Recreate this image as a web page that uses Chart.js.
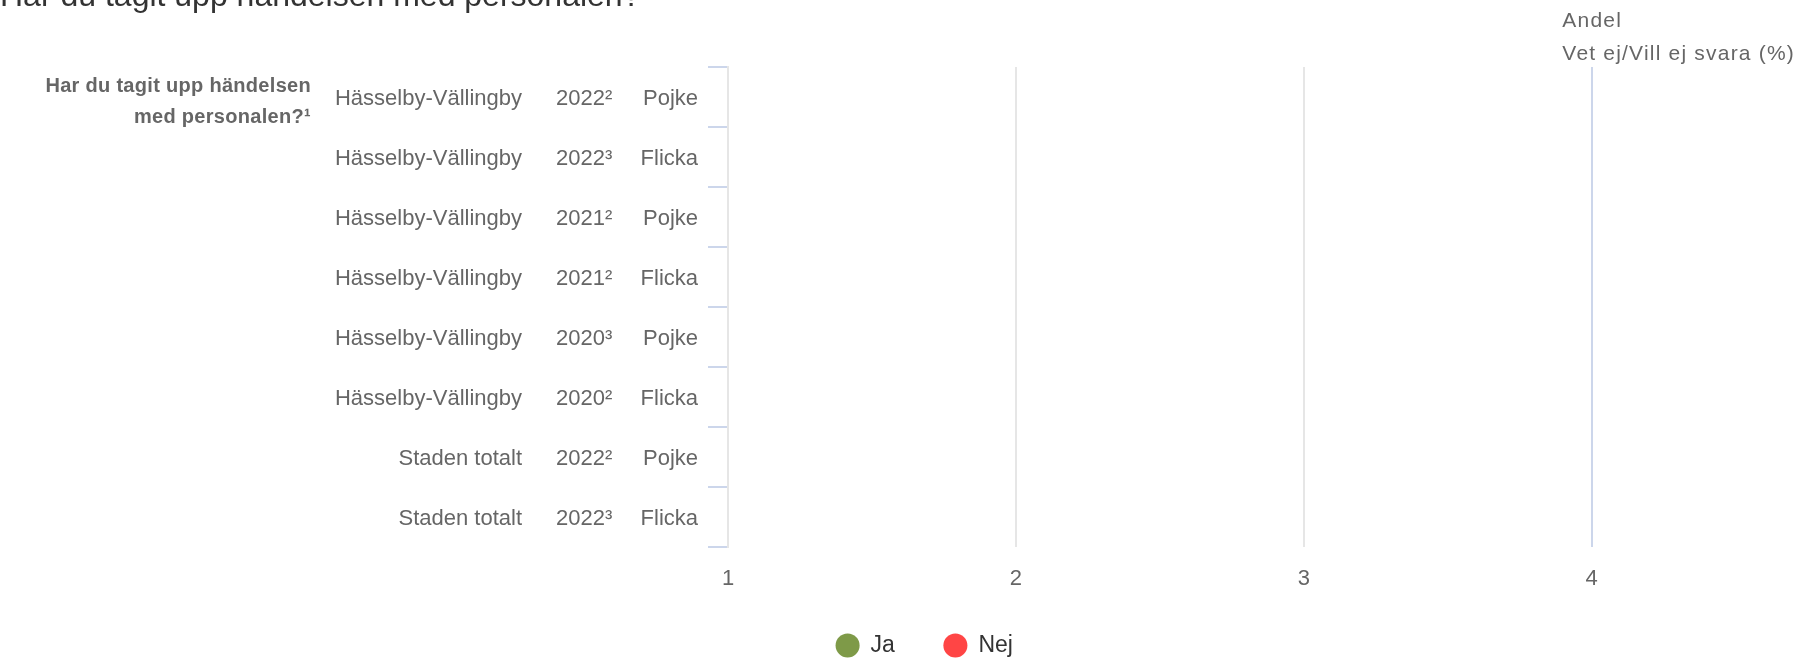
<!DOCTYPE html>
<html>
<head>
<meta charset="utf-8">
<script src="https://cdn.jsdelivr.net/npm/chart.js@4.4.0/dist/chart.umd.min.js"></script>
<style>
  html, body { margin: 0; padding: 0; background: #fff; overflow: hidden; }
  #wrap { position: relative; top: -24px; width: 1799px; height: 699px; }
</style>
</head>
<body>
<div id="wrap"><canvas id="chart"></canvas></div>
<script>
const regions = [
    "Hässelby-Vällingby", "Hässelby-Vällingby", "Hässelby-Vällingby", "Hässelby-Vällingby",
    "Hässelby-Vällingby", "Hässelby-Vällingby", "Staden totalt", "Staden totalt"
];
const years = ["2022²", "2022³", "2021²", "2021²", "2020³", "2020²", "2022²", "2022³"];
const genders = ["Pojke", "Flicka", "Pojke", "Flicka", "Pojke", "Flicka", "Pojke", "Flicka"];

// no answers reported for any group
const jaValues = [null, null, null, null, null, null, null, null];
const nejValues = [null, null, null, null, null, null, null, null];

const xTicks = [1, 2, 3, 4];

const question = ["Har du tagit upp händelsen", "med personalen?¹"];
const axisTitle = ["Andel", "Vet ej/Vill ej svara (%)"];

const FONT = "'Liberation Sans', Arial, sans-serif";

// row labels in three columns, the question label and the axis header
const rowLabels = {
    id: "rowLabels",
    afterLayout(chart) {
        chart.legend.left += 50;
        chart.legend.top -= 8;
    },
    afterDraw(chart) {
        const ctx = chart.ctx;
        const left = chart.chartArea.left;
        const y = chart.scales.y;
        ctx.save();
        ctx.textBaseline = "middle";
        ctx.fillStyle = "#666666";
        ctx.font = "22px " + FONT;
        regions.forEach((r, i) => {
            const py = y.getPixelForValue(i) + 2;
            ctx.textAlign = "right";
            ctx.fillText(r, left - 206, py);
            ctx.textAlign = "left";
            ctx.fillText(years[i], left - 172, py);
            ctx.textAlign = "right";
            ctx.fillText(genders[i], left - 30, py);
        });

        ctx.font = "bold 20px " + FONT;
        ctx.letterSpacing = "0.3px";
        ctx.textAlign = "right";
        const y0 = y.getPixelForValue(0);
        question.forEach((t, k) => ctx.fillText(t, left - 417, y0 - 11 + k * 31));

        ctx.font = "21px " + FONT;
        ctx.letterSpacing = "1.2px";
        ctx.textAlign = "left";
        const w = ctx.measureText(axisTitle[1]).width;
        axisTitle.forEach((t, k) => ctx.fillText(t, chart.width - 4 - w, 45 + k * 33));
        ctx.restore();
    }
};

new Chart(document.getElementById("chart"), {
    type: "bar",
    data: {
        labels: regions.map((r, i) => r + " " + years[i] + " " + genders[i]),
        datasets: [
            { label: "Ja", data: jaValues, backgroundColor: "#7e9a48" },
            { label: "Nej", data: nejValues, backgroundColor: "#ff4545" }
        ]
    },
    options: {
        indexAxis: "y",
        responsive: true,
        maintainAspectRatio: false,
        animation: false,
        scales: {
            x: {
                min: 1,
                max: 4.72,
                afterBuildTicks: s => { s.ticks = xTicks.map(v => ({ value: v })); },
                afterFit: s => { s.height = 46; },
                grid: {
                    color: c => (c.tick && c.tick.value === 4 ? "#ccd6eb" : "#e6e6e6"),
                    lineWidth: 2,
                    drawTicks: false
                },
                border: { display: false },
                ticks: { color: "#666666", font: { size: 22, family: FONT }, padding: 19 }
            },
            y: {
                afterFit: s => { s.width = 728; },
                grid: { drawOnChartArea: false, offset: true, tickLength: 20, color: "#ccd6eb", lineWidth: 2 },
                border: { color: "#e6e6e6", width: 2 },
                ticks: { display: false }
            }
        },
        plugins: {
            title: {
                display: true,
                text: "Har du tagit upp händelsen med personalen?",
                align: "start",
                color: "#333333",
                font: { size: 32, weight: "normal", family: FONT },
                padding: { top: 2, bottom: 50.6 }
            },
            legend: {
                position: "bottom",
                labels: {
                    usePointStyle: true,
                    pointStyle: "circle",
                    boxWidth: 23,
                    boxHeight: 17,
                    padding: 49,
                    color: "#333333",
                    font: { size: 23, family: FONT }
                }
            },
            tooltip: { enabled: false }
        }
    },
    plugins: [rowLabels]
});
</script>
</body>
</html>
